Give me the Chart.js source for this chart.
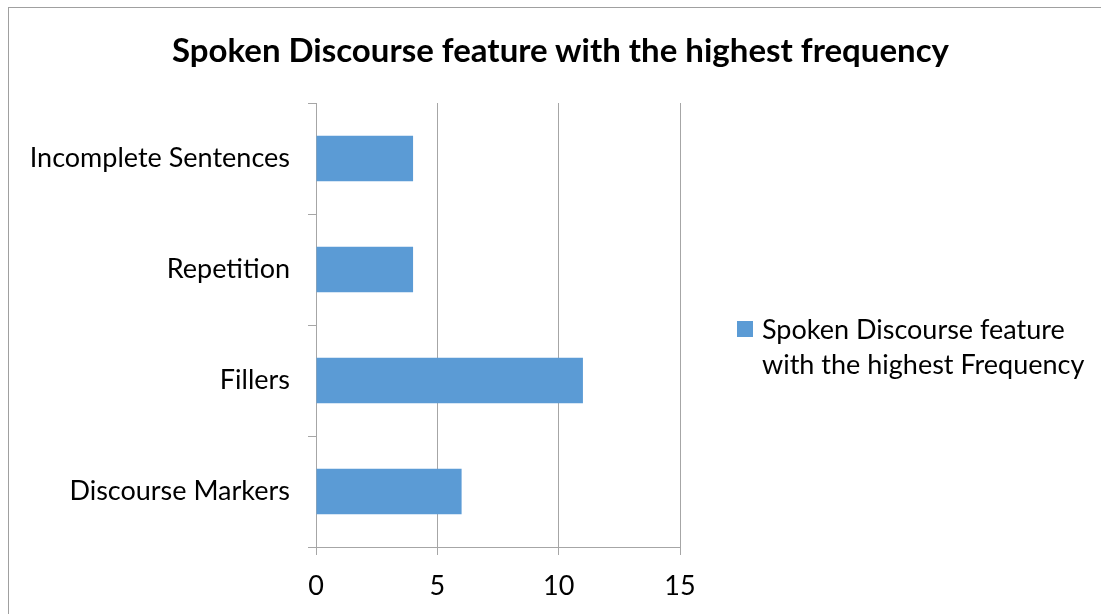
<!DOCTYPE html>
<html>
<head>
<meta charset="utf-8">
<script src="https://cdn.jsdelivr.net/npm/chart.js@4"></script>
<style>
  html, body { margin: 0; padding: 0; background: #fff; overflow: hidden; }
  #wrap { position: relative; width: 1101px; height: 614px; }
  #frame { position: absolute; left: 8px; top: 7px; width: 1300px; height: 800px; border: 1px solid #a0a0a0; }
  #chart { position: absolute; left: 0; top: 0; }
  #title { position: absolute; left: 0; width: 1121px; top: 29px; text-align: center;
           font: bold 33px Lato, sans-serif; color: #000; line-height: 40px; }
  #legend { position: absolute; left: 737px; top: 311px; font: 27px Lato, sans-serif; color: #000; line-height: 35px; }
  #legend .sw { position: absolute; left: 0; top: 10px; width: 16px; height: 16px; background: #5B9BD5; }
  #legend .txt { position: absolute; left: 25px; top: 0; white-space: nowrap; }
</style>
</head>
<body>
<div id="wrap">
  <div id="frame"></div>
  <canvas id="chart" width="1101" height="614"></canvas>
  <div id="title">Spoken Discourse feature with the highest frequency</div>
  <div id="legend"><span class="sw"></span><span class="txt">Spoken Discourse feature<br>with the highest Frequency</span></div>
</div>
<script>
// Categories top-to-bottom and their counts
const categories = ['Incomplete Sentences', 'Repetition', 'Fillers', 'Discourse Markers'];
const frequency  = [4, 4, 11, 6];
const xTicks     = [0, 5, 10, 15];

const GRID = '#a6a6a6';
const FONT = 'Lato, sans-serif';

new Chart(document.getElementById('chart').getContext('2d'), {
  type: 'bar',
  data: {
    labels: categories,
    datasets: [{
      label: 'Spoken Discourse feature with the highest Frequency',
      data: frequency,
      backgroundColor: '#5B9BD5',
      borderWidth: 0,
      categoryPercentage: 1,
      barPercentage: 0.41
    }]
  },
  options: {
    indexAxis: 'y',
    responsive: false,
    animation: false,
    layout: { padding: { top: 103, right: 421, bottom: 0, left: 0 } },
    plugins: { legend: { display: false }, tooltip: { enabled: false } },
    scales: {
      x: {
        min: 0, max: 15,
        afterBuildTicks: s => { s.ticks = xTicks.map(v => ({ value: v })); },
        afterFit: s => { s.height = 67; },
        grid: { color: GRID, lineWidth: 1, tickLength: 8, drawTicks: true },
        border: { color: GRID, width: 1 },
        ticks: { color: '#000', padding: 15, font: { family: FONT, size: 27 } }
      },
      y: {
        afterFit: s => { s.width = 316; },
        grid: { color: GRID, lineWidth: 1, tickLength: 8, drawOnChartArea: false, offset: true },
        border: { color: GRID, width: 1 },
        ticks: { color: '#000', padding: 18, font: { family: FONT, size: 27 } }
      }
    }
  }
});
</script>
</body>
</html>
